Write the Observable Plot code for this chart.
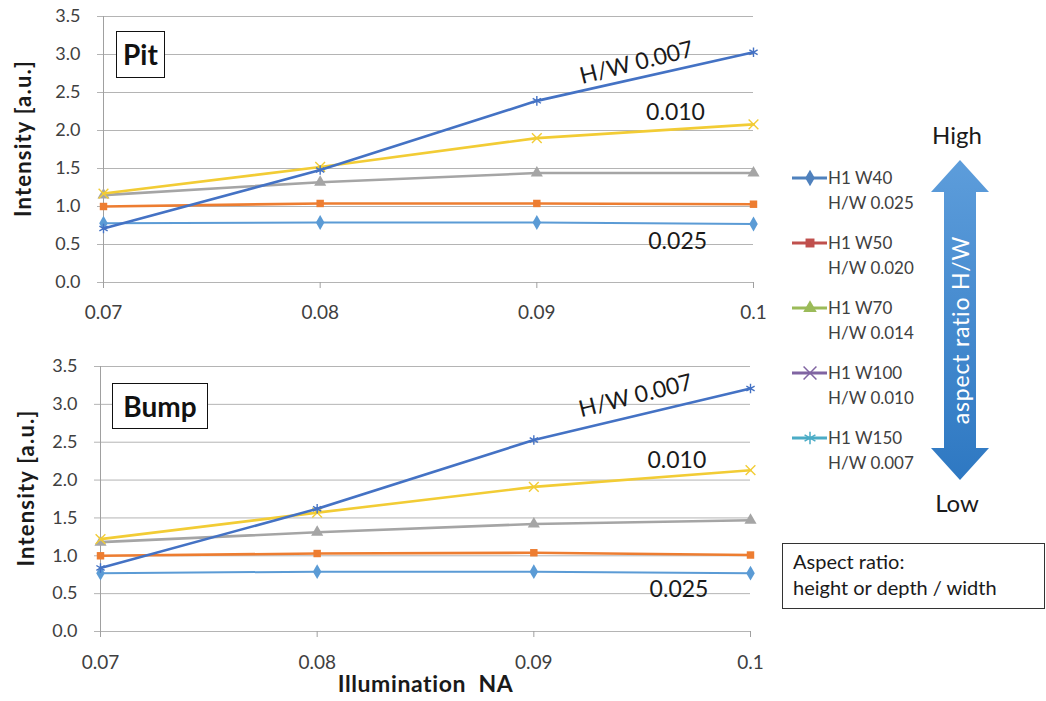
<!DOCTYPE html>
<html>
<head>
<meta charset="utf-8">
<script src="https://cdn.jsdelivr.net/npm/d3@7"></script>
<script src="https://cdn.jsdelivr.net/npm/@observablehq/plot@0.6"></script>
<style>
  body { margin: 0; background: #fff; font-family: Lato, "Open Sans", sans-serif; }
  #wrap { position: relative; width: 1046px; height: 701px; overflow: hidden; background: #fff; }
  .panel { position: absolute; left: 0; }
  .tag { position: absolute; border: 1.5px solid #111; background: #fff; font-weight: bold;
         font-size: 28px; color: #111; line-height: 44px; text-align: center; box-sizing: border-box; }
  #side { position: absolute; left: 770px; top: 0; }
  .ytitle text { letter-spacing: 1.2px; }
  .xtitle text { letter-spacing: 0.6px; }
</style>
</head>
<body>
<div id="wrap">
  <div class="panel" id="panelTop" style="top:0"></div>
  <div class="panel" id="panelBottom" style="top:350px"></div>
  <div class="tag" style="left:116px;top:31px;width:49px;height:47px">Pit</div>
  <div class="tag" style="left:112px;top:383px;width:96px;height:46px">Bump</div>
  <div id="side"></div>
</div>
<script>
// ---------------- data ----------------
const naValues = [0.07, 0.08, 0.09, 0.1];
const naTickLabels = ["0.07", "0.08", "0.09", "0.1"];
const intensityTicks = [0, 0.5, 1, 1.5, 2, 2.5, 3, 3.5];

const seriesNames = ["H1 W40", "H1 W50", "H1 W70", "H1 W100", "H1 W150"];
const seriesRatios = ["H/W 0.025", "H/W 0.020", "H/W 0.014", "H/W 0.010", "H/W 0.007"];
const lineColors = ["#5b9bd5", "#ed7d31", "#a5a5a5", "#f2cc35", "#4472c4"];
const lineSymbols = ["diamond", "square", "triangle", "times", "asterisk"];
const legendColors = ["#4f81bd", "#c0504d", "#9bbb59", "#8064a2", "#4bacc6"];

// Pit panel
const pitH1W40  = [0.78, 0.79, 0.79, 0.77];
const pitH1W50  = [1.00, 1.04, 1.04, 1.03];
const pitH1W70  = [1.15, 1.32, 1.44, 1.44];
const pitH1W100 = [1.17, 1.52, 1.90, 2.08];
const pitH1W150 = [0.71, 1.48, 2.39, 3.03];

// Bump panel
const bumpH1W40  = [0.77, 0.79, 0.79, 0.77];
const bumpH1W50  = [1.00, 1.03, 1.04, 1.01];
const bumpH1W70  = [1.18, 1.31, 1.42, 1.47];
const bumpH1W100 = [1.22, 1.57, 1.91, 2.13];
const bumpH1W150 = [0.84, 1.62, 2.53, 3.21];

// in-chart annotations (data coordinates)
const pitNotes = ["H/W 0.007", "0.010", "0.025"];
const pitNoteNA = [0.0946, 0.0964, 0.0965];
const pitNoteIntensity = [2.89, 2.24, 0.54];
const bumpNotes = ["H/W 0.007", "0.010", "0.025"];
const bumpNoteNA = [0.0947, 0.0966, 0.0967];
const bumpNoteIntensity = [3.11, 2.26, 0.55];
const noteAngles = [-14, 0, 0];

const yTitle = "Intensity [a.u.]";
const xTitle = "Illumination  NA";
const arrowText = "aspect ratio H/W";
const highText = "High", lowText = "Low";
const boxLines = ["Aspect ratio:", "height or depth / width"];

// ---------------- build ----------------
function rows(seriesArrays) {
  const out = [];
  seriesArrays.forEach((vals, s) => vals.forEach((v, i) => out.push({s, na: naValues[i], v})));
  return out;
}

function panel(seriesArrays, notes, noteX, noteY, cfg) {
  const data = rows(seriesArrays);
  const noteData = notes.map((t, i) => ({t, x: noteX[i], y: noteY[i], a: noteAngles[i]}));
  const marks = [
    Plot.ruleY(intensityTicks, {stroke: "#b4b4b4", strokeWidth: 1}),
    Plot.ruleX([naValues[0]], {stroke: "#a0a0a0", strokeWidth: 1}),
    Plot.axisY(intensityTicks, {tickSize: 6, tickPadding: 17, stroke: "#b4b4b4", fill: "#404040",
      fontSize: 18, tickFormat: d3.format(".1f")}),
    Plot.axisX(naValues, {tickSize: 6, tickPadding: cfg.xPad, stroke: "#a0a0a0", fill: "#404040",
      fontSize: 19, tickFormat: (d, i) => naTickLabels[i], label: null})
  ];
  seriesArrays.forEach((vals, s) => {
    const d = data.filter(r => r.s === s);
    const stroked = lineSymbols[s] === "times" || lineSymbols[s] === "asterisk";
    marks.push(Plot.line(d, {x: "na", y: "v", stroke: lineColors[s], strokeWidth: s === 0 ? 2 : 2.6}));
    marks.push(Plot.dot(d, {x: "na", y: "v", symbol: () => lineSymbols[s],
      r: s === 1 ? 4.2 : 4.5,
      fill: stroked ? "none" : lineColors[s], stroke: stroked ? lineColors[s] : "none", strokeWidth: 1.4}));
  });
  marks.push(Plot.text(noteData, {x: "x", y: "y", text: "t", rotate: "a", fontSize: 23, fill: "#1a1a1a"}));
  marks.push(Plot.text([yTitle], {frameAnchor: "left", textAnchor: "middle", dx: cfg.yTitleDx, dy: -11, rotate: -90,
    fontWeight: "bold", fontSize: 22, fill: "#1a1a1a", className: "ytitle"}));
  if (cfg.showXTitle) {
    marks.push(Plot.text([xTitle], {frameAnchor: "bottom", dy: 60, fontWeight: "bold", fontSize: 23,
      fill: "#1a1a1a", className: "xtitle"}));
  }
  return Plot.plot({
    width: 780,
    height: cfg.height,
    marginLeft: cfg.ml, marginRight: 780 - cfg.xr, marginTop: 16, marginBottom: cfg.mb,
    x: {domain: [0.07, 0.1], axis: null},
    y: {domain: [0, 3.5], axis: null},
    style: {fontFamily: "Lato, 'Open Sans', sans-serif", background: "transparent", overflow: "visible"},
    marks
  });
}

document.getElementById("panelTop").append(panel(
  [pitH1W40, pitH1W50, pitH1W70, pitH1W100, pitH1W150], pitNotes, pitNoteNA, pitNoteIntensity,
  {height: 340, ml: 103, xr: 753, mb: 58, xPad: 17, yTitleDx: -80, showXTitle: false}));

document.getElementById("panelBottom").append(panel(
  [bumpH1W40, bumpH1W50, bumpH1W70, bumpH1W100, bumpH1W150], bumpNotes, bumpNoteNA, bumpNoteIntensity,
  {height: 351, ml: 100, xr: 750, mb: 70, xPad: 18, yTitleDx: -74, showXTitle: true}));

// ---------------- right side: legend, arrow, note box ----------------
const ox = 770;
const svg = d3.select("#side").append("svg").attr("width", 276).attr("height", 701)
  .style("font-family", "Lato, 'Open Sans', sans-serif");

const legendSym = {diamond: d3.symbolDiamond, square: d3.symbolSquare, triangle: d3.symbolTriangle,
  times: d3.symbolTimes, asterisk: d3.symbolAsterisk};
seriesNames.forEach((name, i) => {
  const y = 178 + 65 * i;
  const g = svg.append("g");
  g.append("line").attr("x1", 792 - ox).attr("x2", 827 - ox).attr("y1", y).attr("y2", y)
    .attr("stroke", legendColors[i]).attr("stroke-width", 3);
  const stroked = lineSymbols[i] === "times" || lineSymbols[i] === "asterisk";
  g.append("path").attr("d", d3.symbol(legendSym[lineSymbols[i]], stroked ? 110 : 80)())
    .attr("transform", `translate(${810 - ox},${y})`)
    .attr("fill", stroked ? "none" : legendColors[i])
    .attr("stroke", stroked ? legendColors[i] : "none").attr("stroke-width", 1.5);
  g.append("text").attr("x", 828 - ox).attr("y", y).attr("dy", "0.36em")
    .attr("font-size", 17).attr("fill", "#404040").text(name);
  g.append("text").attr("x", 828 - ox).attr("y", y + 25).attr("dy", "0.36em")
    .attr("font-size", 17).attr("fill", "#404040").text(seriesRatios[i]);
});

// double arrow
const acx = 960 - ox, aTop = 160, aBot = 480, hw = 29, sw = 16, hh = 32;
const defs = svg.append("defs");
const grad = defs.append("linearGradient").attr("id", "ag").attr("x1", 0).attr("y1", 0).attr("x2", 0).attr("y2", 1);
grad.append("stop").attr("offset", "0%").attr("stop-color", "#5d9ddb");
grad.append("stop").attr("offset", "100%").attr("stop-color", "#2e78c2");
const pts = [[acx, aTop], [acx + hw, aTop + hh], [acx + sw, aTop + hh], [acx + sw, aBot - hh], [acx + hw, aBot - hh],
  [acx, aBot], [acx - hw, aBot - hh], [acx - sw, aBot - hh], [acx - sw, aTop + hh], [acx - hw, aTop + hh]];
svg.append("path").attr("d", "M" + pts.map(p => p.join(",")).join("L") + "Z").attr("fill", "url(#ag)");
svg.append("text").attr("transform", `translate(${acx + 1},${330}) rotate(-90)`)
  .attr("text-anchor", "middle").attr("dy", "0.35em").attr("font-size", 23).attr("fill", "#fff")
  .attr("letter-spacing", "0.8px").text(arrowText);
svg.append("text").attr("x", 957 - ox).attr("y", 135).attr("dy", "0.36em").attr("text-anchor", "middle")
  .attr("font-size", 24).attr("fill", "#1a1a1a").text(highText);
svg.append("text").attr("x", 957 - ox).attr("y", 503).attr("dy", "0.36em").attr("text-anchor", "middle")
  .attr("font-size", 24).attr("fill", "#1a1a1a").text(lowText);

// note box
svg.append("rect").attr("x", 782.5 - ox).attr("y", 543.5).attr("width", 262).attr("height", 65)
  .attr("fill", "#fff").attr("stroke", "#333").attr("stroke-width", 1);
boxLines.forEach((t, i) => {
  svg.append("text").attr("x", 793 - ox).attr("y", 562 + 26 * i).attr("dy", "0.36em")
    .attr("font-size", 20).attr("fill", "#1a1a1a").text(t);
});
</script>
</body>
</html>
